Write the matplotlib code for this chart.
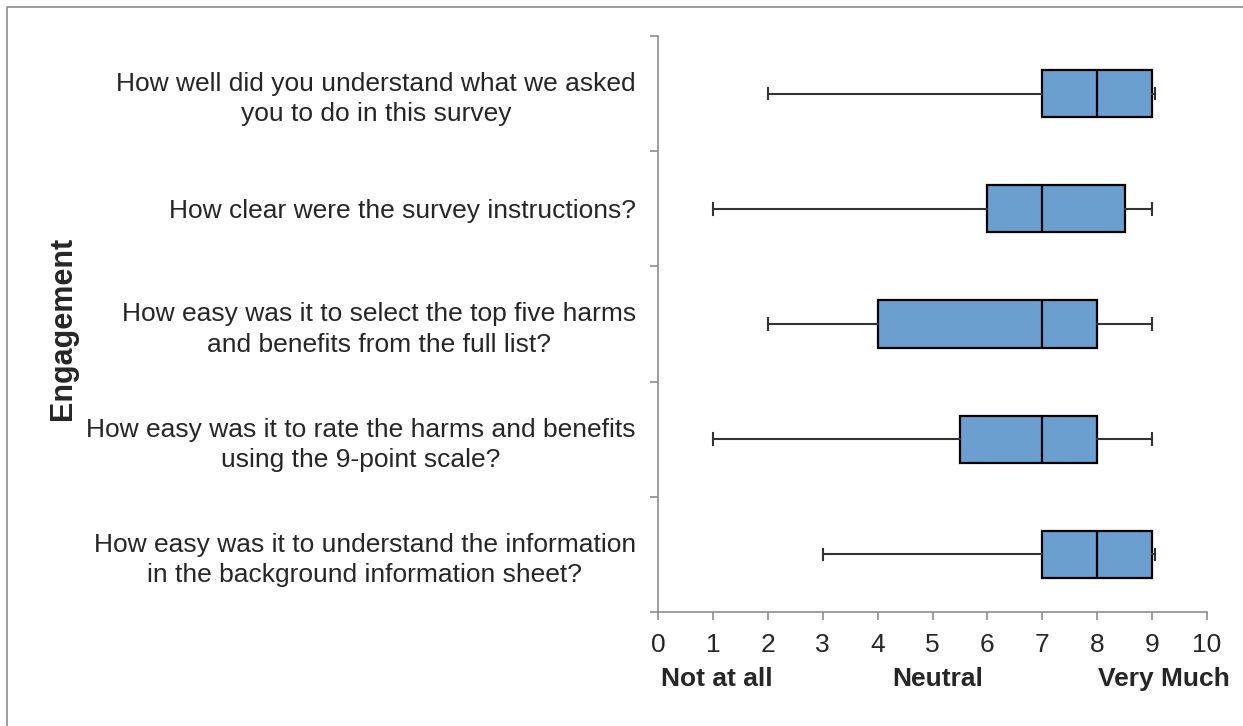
"""
Survey engagement ratings: horizontal box plots on a 0-10 scale.
"""

import matplotlib.pyplot as plt
from matplotlib.lines import Line2D

plt.rcParams["font.family"] = ["Liberation Sans", "DejaVu Sans"]

# top to bottom as in the chart
QUESTIONS = [
    "How well did you understand what we asked\nyou to do in this survey",
    "How clear were the survey instructions?",
    "How easy was it to select the top five harms\nand benefits from the full list?",
    "How easy was it to rate the harms and benefits\nusing the 9-point scale?",
    "How easy was it to understand the information\nin the background information sheet?",
]
MINS = [2, 1, 2, 1, 3]
Q1S = [7, 6, 4, 5.5, 7]
MEDIANS = [8, 7, 7, 7, 8]
Q3S = [9, 8.5, 8, 8, 9]
MAXS = [9.05, 9, 9, 9, 9.05]

X_TICKS = list(range(11))
SCALE_LABELS = ["Not at all", "Neutral", "Very Much"]
SCALE_POS = [1.07, 5.1, 9.21]

BOX_COLOR = "#6A9FD0"
AXIS_COLOR = "#8C8C8C"
TEXT_COLOR = "#262626"
FS = 19


def main():
    fig = plt.figure(figsize=(12.43, 7.26), dpi=100)
    ax = fig.add_axes([658 / 1243, 1 - 612 / 726, 549 / 1243, 576 / 726])

    n = len(QUESTIONS)
    positions = [n - 0.5 - i for i in range(n)]
    stats = []
    for i in range(n):
        stats.append(dict(whislo=MINS[i], q1=Q1S[i], med=MEDIANS[i],
                          q3=Q3S[i], whishi=MAXS[i], fliers=[]))

    ax.bxp(stats, positions=positions, orientation="horizontal", widths=0.41,
           patch_artist=True, showfliers=False,
           boxprops=dict(facecolor=BOX_COLOR, edgecolor="black", linewidth=1.6),
           medianprops=dict(color="black", linewidth=1.6),
           whiskerprops=dict(color="#333333", linewidth=1.5),
           capprops=dict(color="#333333", linewidth=1.5), capwidths=0.1)

    ax.set_xlim(0, 10)
    ax.set_ylim(0, n)
    ax.set_xticks(X_TICKS)
    ax.set_xticklabels([str(t) for t in X_TICKS], fontsize=FS, color=TEXT_COLOR)

    # tick marks at band boundaries, labels at band centres
    ax.set_yticks(range(n + 1))
    ax.set_yticklabels([])
    ax.set_yticks(positions, minor=True)
    ax.set_yticklabels(QUESTIONS, minor=True, fontsize=FS, color=TEXT_COLOR,
                       multialignment="center", linespacing=1.32)
    ax.tick_params(axis="y", which="minor", length=0, pad=16)
    ax.tick_params(axis="both", which="major", length=6, width=1.2, color=AXIS_COLOR)
    ax.tick_params(axis="x", pad=9)

    for side in ["top", "right"]:
        ax.spines[side].set_visible(False)
    for side in ["left", "bottom"]:
        ax.spines[side].set_color(AXIS_COLOR)
        ax.spines[side].set_linewidth(1.2)

    for label, xp in zip(SCALE_LABELS, SCALE_POS):
        ax.text(xp, -0.58, label, ha="center", va="center", fontsize=FS,
                fontweight="bold", color=TEXT_COLOR)

    fig.text(63 / 1243, 1 - 328 / 726, "Engagement", rotation=90, ha="center",
             va="center", fontsize=22, fontweight="bold", color=TEXT_COLOR)

    # chart-area border (only left and top edges visible in the image)
    fig.lines.append(Line2D([7 / 1243, 7 / 1243, 1], [0, 1 - 7 / 726, 1 - 7 / 726],
                            transform=fig.transFigure, color=AXIS_COLOR,
                            linewidth=1.2))

    fig.savefig("out.png", dpi=100)


if __name__ == "__main__":
    main()
